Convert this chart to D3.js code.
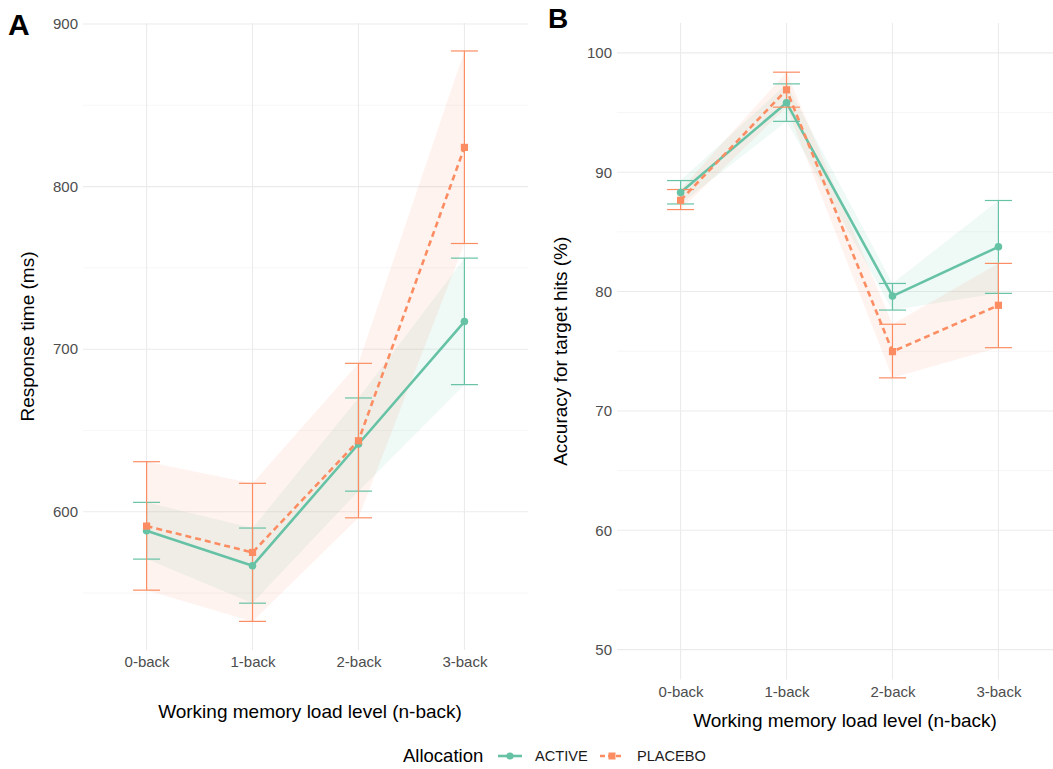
<!DOCTYPE html>
<html>
<head>
<meta charset="utf-8">
<script src="https://cdn.jsdelivr.net/npm/d3@7"></script>
<style>
  body { margin: 0; background: #fff; }
  svg { display: block; font-family: "Liberation Sans", Arial, sans-serif; }
</style>
</head>
<body>
<svg id="chart" width="1053" height="769"></svg>
<script>
// Load levels
const categories = ["0-back", "1-back", "2-back", "3-back"];
const groups = ["ACTIVE", "PLACEBO"];

// Panel A: response time (ms)
const rtActiveMean  = [588.3, 566.8, 641.7, 717.0];
const rtActiveLow   = [570.9, 543.8, 612.7, 678.2];
const rtActiveHigh  = [605.8, 590.0, 670.0, 756.0];
const rtPlaceboMean = [591.2, 575.0, 643.7, 824.1];
const rtPlaceboLow  = [551.8, 532.6, 596.3, 765.0];
const rtPlaceboHigh = [630.8, 617.5, 691.3, 883.4];
const rtTicks = [600, 700, 800, 900];
const rtMinorTicks = [550, 650, 750, 850];

// Panel B: accuracy for target hits (%)
const accActiveMean  = [88.29, 95.82, 79.62, 83.75];
const accActiveLow   = [87.34, 94.26, 78.45, 79.85];
const accActiveHigh  = [89.30, 97.40, 80.68, 87.63];
const accPlaceboMean = [87.65, 96.90, 74.97, 78.85];
const accPlaceboLow  = [86.87, 95.45, 72.77, 75.30];
const accPlaceboHigh = [88.55, 98.38, 77.26, 82.36];
const accTicks = [50, 60, 70, 80, 90, 100];
const accMinorTicks = [55, 65, 75, 85, 95];

const colors = { ACTIVE: "#66c2a5", PLACEBO: "#fc8d62" };
const dashes = { ACTIVE: null, PLACEBO: "6,4" };

const tickFont = "15px";
const titleFont = "19px";

function series(mean, low, high) {
  return categories.map((c, i) => ({ cat: c, mean: mean[i], low: low[i], high: high[i] }));
}

const svg = d3.select("#chart");

function drawPanel(cfg) {
  const g = svg.append("g");
  const x = d3.scalePoint().domain(categories).range([cfg.left, cfg.right]).padding(0.6);
  const y = d3.scaleLinear().domain(cfg.domain).range([cfg.bottom, cfg.top]);

  // minor grid
  g.append("g").selectAll("line").data(cfg.minor).join("line")
    .attr("x1", cfg.left).attr("x2", cfg.right)
    .attr("y1", d => y(d)).attr("y2", d => y(d))
    .attr("stroke", "#f2f2f2").attr("stroke-width", 0.7);
  // major grid
  g.append("g").selectAll("line").data(cfg.ticks).join("line")
    .attr("x1", cfg.left).attr("x2", cfg.right)
    .attr("y1", d => y(d)).attr("y2", d => y(d))
    .attr("stroke", "#ebebeb").attr("stroke-width", 1.1);
  g.append("g").selectAll("line").data(categories).join("line")
    .attr("x1", d => x(d)).attr("x2", d => x(d))
    .attr("y1", cfg.top).attr("y2", cfg.bottom)
    .attr("stroke", "#ebebeb").attr("stroke-width", 1.1);

  // y axis labels
  const yAxis = g.append("g").attr("transform", `translate(${cfg.left},0)`)
    .call(d3.axisLeft(y).tickValues(cfg.ticks).tickSize(0).tickPadding(cfg.yPad));
  yAxis.select(".domain").remove();
  yAxis.selectAll("text").attr("fill", "#4d4d4d").style("font-size", tickFont)
    .style("font-family", "Liberation Sans, Arial, sans-serif");

  // x axis labels
  const xAxis = g.append("g").attr("transform", `translate(0,${cfg.xLabelY})`)
    .call(d3.axisBottom(x).tickSize(0).tickPadding(0));
  xAxis.select(".domain").remove();
  xAxis.selectAll("text").attr("fill", "#4d4d4d").style("font-size", tickFont)
    .attr("dy", 0)
    .style("font-family", "Liberation Sans, Arial, sans-serif");

  const data = { ACTIVE: cfg.active, PLACEBO: cfg.placebo };

  // ribbons
  groups.forEach(k => {
    const area = d3.area().x(d => x(d.cat)).y0(d => y(d.low)).y1(d => y(d.high));
    g.append("path").datum(data[k]).attr("d", area)
      .attr("fill", colors[k]).attr("fill-opacity", 0.1);
  });
  // lines
  groups.forEach(k => {
    const line = d3.line().x(d => x(d.cat)).y(d => y(d.mean));
    g.append("path").datum(data[k]).attr("d", line)
      .attr("fill", "none").attr("stroke", colors[k]).attr("stroke-width", 2.6)
      .attr("stroke-dasharray", dashes[k]);
  });
  // error bars
  groups.forEach(k => {
    const eb = g.append("g").attr("stroke", colors[k]).attr("stroke-width", 1.2);
    data[k].forEach(d => {
      const cx = x(d.cat);
      eb.append("line").attr("x1", cx).attr("x2", cx).attr("y1", y(d.low)).attr("y2", y(d.high));
      eb.append("line").attr("x1", cx - 13.5).attr("x2", cx + 13.5).attr("y1", y(d.low)).attr("y2", y(d.low));
      eb.append("line").attr("x1", cx - 13.5).attr("x2", cx + 13.5).attr("y1", y(d.high)).attr("y2", y(d.high));
    });
  });
  // points
  g.selectAll(".pa").data(cfg.active).join("circle")
    .attr("cx", d => x(d.cat)).attr("cy", d => y(d.mean)).attr("r", 3.8)
    .attr("fill", colors.ACTIVE);
  g.selectAll(".pp").data(cfg.placebo).join("rect")
    .attr("x", d => x(d.cat) - 3.6).attr("y", d => y(d.mean) - 3.6)
    .attr("width", 7.2).attr("height", 7.2).attr("fill", colors.PLACEBO);

  // axis titles
  g.append("text").attr("x", cfg.xTitleX).attr("y", cfg.xTitleY)
    .attr("text-anchor", "middle").style("font-size", titleFont).attr("fill", "#000")
    .text("Working memory load level (n-back)");
  g.append("text")
    .attr("transform", `translate(${cfg.yTitleX},${(cfg.top + cfg.bottom) / 2}) rotate(-90)`)
    .attr("text-anchor", "middle").style("font-size", titleFont).attr("fill", "#000")
    .text(cfg.yTitle);

  // panel tag
  g.append("text").attr("x", cfg.tagX).attr("y", cfg.tagY)
    .style("font-size", cfg.tagSize).style("font-weight", "bold").attr("fill", "#000")
    .text(cfg.tag);
}

drawPanel({
  left: 83, right: 528, top: 23, bottom: 650,
  domain: [515, 900.6], ticks: rtTicks, minor: rtMinorTicks, yPad: 5,
  xLabelY: 667, xTitleX: 310, xTitleY: 718, yTitleX: 34,
  yTitle: "Response time (ms)",
  active: series(rtActiveMean, rtActiveLow, rtActiveHigh),
  placebo: series(rtPlaceboMean, rtPlaceboLow, rtPlaceboHigh),
  tag: "A", tagX: 8, tagY: 35, tagSize: "30px"
});

drawPanel({
  left: 617, right: 1062, top: 23, bottom: 679.5,
  domain: [47.5, 102.5], ticks: accTicks, minor: accMinorTicks, yPad: 5,
  xLabelY: 697, xTitleX: 845, xTitleY: 727, yTitleX: 567,
  yTitle: "Accuracy for target hits (%)",
  active: series(accActiveMean, accActiveLow, accActiveHigh),
  placebo: series(accPlaceboMean, accPlaceboLow, accPlaceboHigh),
  tag: "B", tagX: 548, tagY: 28, tagSize: "28px"
});

// legend
const legend = svg.append("g");
legend.append("text").attr("x", 403).attr("y", 762).style("font-size", "18.5px")
  .attr("fill", "#000").text("Allocation");
const legendItems = [
  { key: "ACTIVE", x0: 498, tx: 535 },
  { key: "PLACEBO", x0: 600, tx: 637 }
];
legendItems.forEach(it => {
  const cy = 756;
  legend.append("line").attr("x1", it.x0).attr("x2", it.x0 + 24).attr("y1", cy).attr("y2", cy)
    .attr("stroke", colors[it.key]).attr("stroke-width", 2.6)
    .attr("stroke-dasharray", it.key === "PLACEBO" ? "5,3" : null);
  if (it.key === "ACTIVE") {
    legend.append("circle").attr("cx", it.x0 + 12).attr("cy", cy).attr("r", 3.6).attr("fill", colors[it.key]);
  } else {
    legend.append("rect").attr("x", it.x0 + 8.5).attr("y", cy - 3.5).attr("width", 7).attr("height", 7)
      .attr("fill", colors[it.key]);
  }
  legend.append("text").attr("x", it.tx).attr("y", 761).style("font-size", "14.6px")
    .attr("fill", "#1a1a1a").text(it.key);
});
</script>
</body>
</html>
